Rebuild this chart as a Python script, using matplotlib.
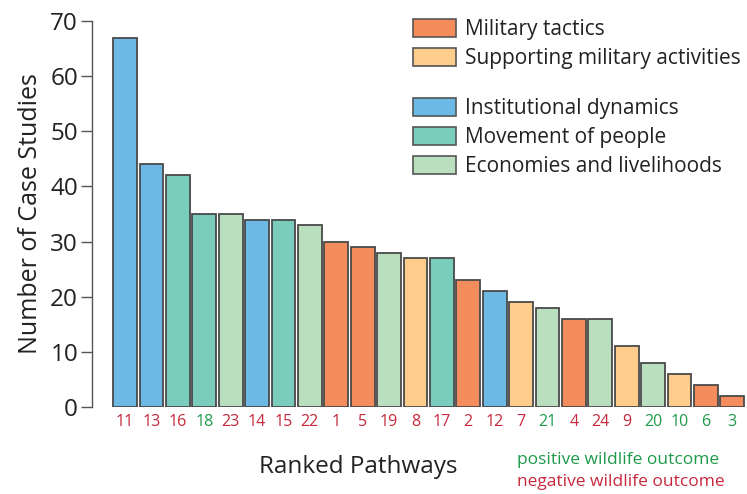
import numpy as np
import matplotlib.pyplot as plt
from matplotlib.patches import Patch

plt.rcParams['font.family'] = ['Open Sans', 'DejaVu Sans']

# ranked pathways, case study counts, category and outcome
pathways = ['11', '13', '16', '18', '23', '14', '15', '22', '1', '5', '19', '8',
            '17', '2', '12', '7', '21', '4', '24', '9', '20', '10', '6', '3']
counts = [67, 44, 42, 35, 35, 34, 34, 33, 30, 29, 28, 27,
          27, 23, 21, 19, 18, 16, 16, 11, 8, 6, 4, 2]
category = ['inst', 'inst', 'move', 'move', 'econ', 'inst', 'move', 'econ',
            'mil', 'mil', 'econ', 'supp', 'move', 'mil', 'inst', 'supp',
            'econ', 'mil', 'econ', 'supp', 'econ', 'supp', 'mil', 'mil']
positive = ['18', '21', '20', '10', '6', '3']

cat_colors = {
    'mil': '#F58C5C',
    'supp': '#FECC8B',
    'inst': '#6DB9E6',
    'move': '#7ACDBD',
    'econ': '#BADFBE',
}
cat_names = {
    'mil': 'Military tactics',
    'supp': 'Supporting military activities',
    'inst': 'Institutional dynamics',
    'move': 'Movement of people',
    'econ': 'Economies and livelihoods',
}
legend_groups = [['mil', 'supp'], ['inst', 'move', 'econ']]
green = '#1E9A4A'
red = '#C8283C'
edge = '#4A4A4A'

fig = plt.figure(figsize=(7.47, 4.94), dpi=100)
ax = fig.add_axes([92 / 747, 87 / 494, 653 / 747, 386 / 494])

x = np.arange(len(pathways))
ax.bar(x, counts, width=0.9, color=[cat_colors[c] for c in category],
       edgecolor=edge, linewidth=1.3)

ax.set_xlim(-1.25, 23.48)
ax.set_ylim(0, 70)
ax.set_yticks(range(0, 71, 10))
ax.tick_params(axis='y', labelsize=17.5, length=8, width=1, color='#555555',
               pad=2, labelcolor='#222222')
ax.set_xticks(x)
ax.set_xticklabels(pathways, fontsize=11.5)
ax.tick_params(axis='x', length=0, pad=5)
for lab in ax.get_xticklabels():
    lab.set_color(green if lab.get_text() in positive else red)

for s in ['top', 'right', 'bottom']:
    ax.spines[s].set_visible(False)
ax.spines['left'].set_color('#555555')
ax.spines['left'].set_linewidth(1)

ax.set_ylabel('Number of Case Studies', fontsize=18, color='#222222', labelpad=5)
fig.text(358 / 747, 1 - 467 / 494, 'Ranked Pathways', fontsize=17.5,
         color='#222222', ha='center', va='center')
fig.text(517 / 747, 1 - 460 / 494, 'positive wildlife outcome', fontsize=12.5,
         color=green, ha='left', va='center')
fig.text(517 / 747, 1 - 482 / 494, 'negative wildlife outcome', fontsize=12.5,
         color=red, ha='left', va='center')

# two legend blocks, military on top, other pathways below
for group, top in zip(legend_groups, [19, 98]):
    handles = [Patch(facecolor=cat_colors[k], edgecolor='#555555', linewidth=1.2)
               for k in group]
    labels = [cat_names[k] for k in group]
    leg = fig.legend(handles, labels, loc='upper left',
                     bbox_to_anchor=(413 / 747, 1 - top / 494),
                     frameon=False, fontsize=15, handlelength=2.07,
                     handleheight=0.96, handletextpad=0.43, labelspacing=0.38,
                     borderpad=0, borderaxespad=0)
    for t in leg.get_texts():
        t.set_color('#222222')

fig.savefig('out.png', dpi=100)
